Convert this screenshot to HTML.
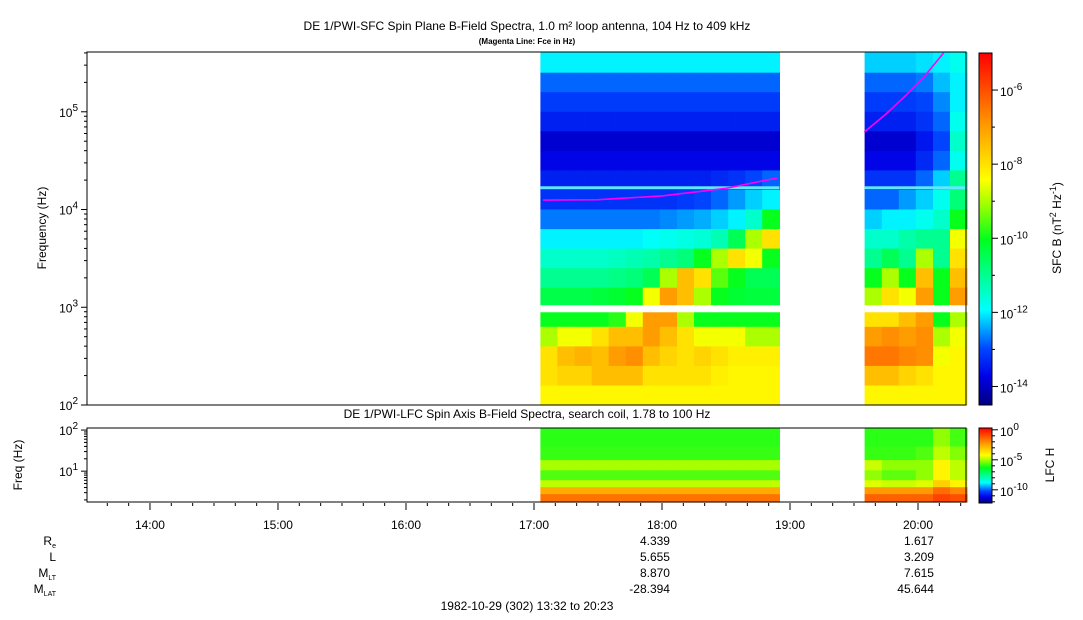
<!DOCTYPE html>
<html><head><meta charset="utf-8"><style>
html,body{margin:0;padding:0;background:#fff;}
svg{display:block;font-family:"Liberation Sans",sans-serif;}
</style></head><body>
<svg id="c" width="1083" height="620" viewBox="0 0 1083 620" xmlns="http://www.w3.org/2000/svg">
<text x="527" y="30" font-size="12" text-anchor="middle">DE 1/PWI-SFC  Spin Plane B-Field Spectra, 1.0 m² loop antenna, 104 Hz to 409 kHz</text>
<text x="527" y="44" font-size="8" font-weight="bold" text-anchor="middle">(Magenta Line: Fce in Hz)</text>
<text x="527" y="418" font-size="12" text-anchor="middle">DE 1/PWI-LFC  Spin Axis B-Field Spectra, search coil, 1.78 to 100 Hz</text>
<text transform="translate(46,228) rotate(-90)" font-size="12" text-anchor="middle">Frequency (Hz)</text>
<text transform="translate(22,465) rotate(-90)" font-size="12" text-anchor="middle">Freq (Hz)</text>
<text transform="translate(1061,228) rotate(-90)" font-size="12" text-anchor="middle">SFC B (nT<tspan dy="-5" font-size="9">2</tspan><tspan dy="5"> Hz</tspan><tspan dy="-5" font-size="9">-1</tspan><tspan dy="5">)</tspan></text>
<text transform="translate(1054,465) rotate(-90)" font-size="12" text-anchor="middle">LFC H</text>
<g id="g"></g>
</svg>
<script>
// ---- data ----
const hourTicks = [14,15,16,17,18,19,20];
const colStartsH = [17.05,17.183,17.317,17.45,17.583,17.717,17.85,17.983,18.117,18.25,18.383,18.517,18.65,18.783,
                    19.583,19.717,19.85,19.983,20.117,20.25];
const colEndsH = [17.183,17.317,17.45,17.583,17.717,17.85,17.983,18.117,18.25,18.383,18.517,18.65,18.783,18.917,
                    19.717,19.85,19.983,20.117,20.25,20.383];
const rowLogLo = [5.4,5.2,5.0,4.8,4.6,4.4,4.2,4.0,3.8,3.6,3.4,3.2,3.0,2.8,2.6,2.4,2.2,2.0];
const rowLogHi = [5.62,5.4,5.2,5.0,4.8,4.6,4.4,4.2,4.0,3.8,3.6,3.4,3.2,3.0,2.8,2.6,2.4,2.2];
const sfc = [
 [-12.0,-12.0,-12.0,-12.0,-12.0,-12.0,-12.0,-12.0,-12.0,-12.0,-12.0,-12.0,-12.0,-12.0, -12.2,-12.2,-12.2,-12.1,-12.0,-11.8],
 [-12.8,-12.8,-12.8,-12.8,-12.8,-12.8,-12.8,-12.8,-12.8,-12.8,-12.8,-12.8,-12.8,-12.8, -12.8,-12.8,-12.8,-12.7,-12.3,-12.0],
 [-13.1,-13.1,-13.1,-13.1,-13.1,-13.1,-13.1,-13.1,-13.1,-13.1,-13.1,-13.1,-13.1,-13.1, -13.1,-13.1,-13.1,-13.0,-12.6,-12.0],
 [-13.4,-13.4,-13.4,-13.4,-13.4,-13.4,-13.4,-13.4,-13.4,-13.4,-13.4,-13.4,-13.4,-13.4, -13.4,-13.4,-13.4,-13.2,-12.8,-11.8],
 [-13.9,-13.9,-13.9,-13.9,-13.9,-13.9,-13.9,-13.9,-13.9,-13.9,-13.9,-13.9,-13.9,-13.9, -13.9,-13.9,-13.9,-13.5,-13.0,-11.5],
 [-13.7,-13.7,-13.7,-13.7,-13.7,-13.7,-13.7,-13.7,-13.7,-13.7,-13.7,-13.7,-13.7,-13.7, -13.7,-13.7,-13.7,-13.3,-12.8,-11.8],
 [-13.4,-13.4,-13.4,-13.4,-13.4,-13.4,-13.4,-13.4,-13.4,-13.4,-13.3,-13.2,-13.0,-12.8, -13.2,-13.2,-13.2,-12.8,-12.2,-11.0],
 [-13.2,-13.2,-13.2,-13.2,-13.2,-13.2,-13.2,-13.2,-13.1,-13.0,-12.8,-12.5,-12.2,-12.0, -12.8,-12.8,-12.5,-12.2,-11.8,-10.8],
 [-12.7,-12.7,-12.7,-12.7,-12.7,-12.7,-12.7,-12.6,-12.5,-12.4,-12.2,-12.0,-11.5,-10.0, -12.2,-12.0,-12.0,-11.8,-11.5,-10.0],
 [-12.0,-12.0,-12.0,-12.0,-12.0,-12.0,-11.9,-11.8,-11.7,-11.6,-11.3,-10.5,-9.0,-8.0,  -11.5,-11.5,-11.2,-11.0,-11.0,-8.5],
 [-11.5,-11.5,-11.5,-11.5,-11.4,-11.3,-11.2,-11.0,-10.8,-10.0,-9.0,-8.0,-8.5,-10.0,   -11.0,-10.5,-11.0,-9.0,-11.0,-8.0],
 [-11.0,-11.0,-11.0,-11.0,-10.9,-10.8,-10.5,-9.0,-7.5,-8.0,-9.5,-10.0,-10.5,-10.5,    -10.0,-9.0,-10.0,-7.5,-10.0,-7.5],
 [-10.4,-10.4,-10.4,-10.3,-10.2,-10.0,-8.5,-7.0,-7.5,-9.0,-10.0,-10.2,-10.3,-10.3,    -9.0,-8.0,-8.5,-7.0,-10.0,-7.0],
 [-10.0,-10.0,-10.0,-10.0,-9.8,-8.5,-7.0,-7.0,-9.0,-10.0,-10.0,-10.0,-10.0,-10.0,     -8.0,-8.0,-7.5,-7.0,-10.0,-9.0],
 [-9.0,-8.5,-8.5,-8.0,-7.5,-7.5,-7.0,-7.5,-8.0,-8.5,-8.5,-8.5,-9.0,-9.0,              -7.0,-6.8,-7.0,-6.8,-9.0,-8.5],
 [-8.0,-7.5,-7.3,-7.5,-7.0,-6.8,-7.5,-7.8,-8.0,-7.8,-8.0,-8.2,-8.2,-8.2,              -6.5,-6.5,-6.7,-6.8,-8.5,-8.3],
 [-8.0,-7.8,-7.8,-7.5,-7.5,-7.5,-8.0,-8.0,-8.0,-8.0,-8.2,-8.3,-8.3,-8.3,              -7.5,-7.5,-7.8,-8.0,-8.3,-8.3],
 [-8.3,-8.3,-8.3,-8.3,-8.3,-8.3,-8.3,-8.3,-8.3,-8.3,-8.3,-8.3,-8.3,-8.3,              -8.3,-8.3,-8.3,-8.3,-8.3,-8.3]
];
const lfcLogLo = [1.6,1.27,1.02,0.78,0.61,0.44,0.25];
const lfcLogHi = [2.05,1.6,1.27,1.02,0.78,0.61,0.44];
const lfc = [
 [-6.0,-6.0,-6.0,-6.0,-6.0,-6.0,-6.0,-6.0,-6.0,-6.0,-6.0,-6.0,-6.0,-6.0, -6.0,-6.0,-6.0,-6.0,-5.2,-5.8],
 [-5.9,-5.9,-5.9,-5.9,-5.9,-5.9,-5.9,-5.9,-5.9,-5.9,-5.9,-5.9,-5.9,-5.9, -5.9,-5.9,-5.9,-5.7,-4.8,-5.3],
 [-5.0,-5.0,-5.0,-5.0,-5.0,-5.0,-5.0,-5.0,-5.0,-5.0,-5.0,-5.0,-5.0,-5.0, -4.7,-5.2,-5.2,-5.2,-4.0,-4.8],
 [-5.7,-5.7,-5.7,-5.7,-5.7,-5.7,-5.7,-5.7,-5.7,-5.7,-5.7,-5.7,-5.7,-5.7, -5.2,-5.6,-5.6,-5.2,-4.0,-4.8],
 [-4.8,-4.8,-4.8,-4.8,-4.8,-4.8,-4.8,-4.8,-4.8,-4.8,-4.8,-4.8,-4.8,-4.8, -4.5,-4.7,-4.7,-4.5,-3.3,-4.0],
 [-2.6,-2.6,-2.6,-2.6,-2.6,-2.6,-2.6,-2.6,-2.6,-2.6,-2.6,-2.6,-2.6,-2.6, -2.3,-2.3,-2.3,-2.3,-1.5,-2.0],
 [-1.6,-1.6,-1.6,-1.6,-1.6,-1.6,-1.6,-1.6,-1.6,-1.6,-1.6,-1.6,-1.6,-1.6, -1.3,-1.3,-1.3,-1.3,-0.8,-1.0]
];
const fce1T = [17.07,17.5,18.0,18.5,18.9];
const fce1F = [12500,12600,13800,16500,21000];
const fce2T = [19.58,19.75,19.9,20.05,20.2];
const fce2F = [62000,95000,145000,230000,400000];
const ephemLabels = ["Re","L","MLT","MLAT"];
const ephem18 = ["4.339","5.655","8.870","-28.394"];
const ephem20 = ["1.617","3.209","7.615","45.644"];

// ---- axes ----
const X0=87, X1=966, T0=13.508, T1=20.375;
const xs = h => X0 + (h-T0)/(T1-T0)*(X1-X0);
const Y0=405, Y1=52, L0=2.0, L1=Math.log10(409000);
const ys = l => Y0 - (l-L0)/(L1-L0)*(Y0-Y1);
const LY0=502, LY1=428, LL0=0.25, LL1=2.05;
const lys = l => LY0 - (l-LL0)/(LL1-LL0)*(LY0-LY1);
const stops=[[0,[0,0,128]],[0.08,[0,0,230]],[0.16,[0,70,255]],[0.27,[0,255,255]],[0.47,[0,255,30]],[0.57,[160,255,0]],[0.64,[255,255,0]],[0.8,[255,150,0]],[1,[255,0,0]]];
function jet(t){t=Math.max(0,Math.min(1,t));for(let i=1;i<stops.length;i++){if(t<=stops[i][0]){const a=stops[i-1],b=stops[i],f=(t-a[0])/(b[0]-a[0]);const c=a[1].map((v,k)=>Math.round(v+(b[1][k]-v)*f));return `rgb(${c})`;}}return 'rgb(255,0,0)';}
const sfcMin=-14.5,sfcMax=-5, lfcMin=-12.2, lfcMax=0.3;

const NS="http://www.w3.org/2000/svg", G=document.getElementById('g');
function el(tag,attrs,parent){const e=document.createElementNS(NS,tag);for(const k in attrs)e.setAttribute(k,attrs[k]);(parent||G).appendChild(e);return e;}

// main cells
const cells=el('g',{});


sfc.forEach((row,r)=>row.forEach((v,c)=>{
  const x=xs(colStartsH[c]), w=xs(colEndsH[c])-x, y=ys(Math.min(rowLogHi[r],L1)), h=ys(rowLogLo[r])-y;
  const e=el('rect',{x:x.toFixed(1),y:y.toFixed(1),width:(w+0.6).toFixed(1),height:(h+0.6).toFixed(1),fill:jet((v-sfcMin)/(sfcMax-sfcMin))},cells);
  
  
}));
// 16 kHz cyan line and 1 kHz gap
[[0,13],[14,19]].forEach(([a,b])=>{
  const x=xs(colStartsH[a]), w=xs(colEndsH[b])-x;
  const ln=el('rect',{x:x,y:ys(Math.log10(16500))-2,width:w,height:3,fill:'#60e8ff'});
  
  
  const gp=el('rect',{x:x,y:ys(3.0)-2,width:w+1,height:7,fill:'#fff'});
  
  
});
// fce lines
[[fce1T,fce1F],[fce2T,fce2F]].forEach(([T,F])=>{
  const pts=T.map((t,i)=>xs(t).toFixed(1)+','+ys(Math.log10(F[i])).toFixed(1)).join(' ');
  const p=el('polyline',{points:pts,fill:'none',stroke:'#ff00ff','stroke-width':1.6});
  
  
});
// lower cells
const lc=el('g',{});


lfc.forEach((row,r)=>row.forEach((v,c)=>{
  const x=xs(colStartsH[c]), w=xs(colEndsH[c])-x, y=lys(lfcLogHi[r]), h=lys(lfcLogLo[r])-y;
  const e=el('rect',{x:x.toFixed(1),y:y.toFixed(1),width:(w+0.6).toFixed(1),height:(h+0.6).toFixed(1),fill:jet((v-lfcMin)/(lfcMax-lfcMin))},lc);
  
  
}));
// frames
const f1=el('rect',{x:X0,y:Y1,width:X1-X0,height:Y0-Y1,fill:'none',stroke:'#000','stroke-width':1});


const f2=el('rect',{x:X0,y:LY1,width:X1-X0,height:LY0-LY1,fill:'none',stroke:'#000','stroke-width':1});


// y ticks main
for(let d=2;d<=5;d++){for(let m=1;m<10;m++){const l=d+Math.log10(m);if(l>L1)break;const y=ys(l);const len=m==1?6:3;
  const t=el('line',{x1:X0-len,x2:X0,y1:y,y2:y,stroke:'#000'});
  
  
  if(m==1){const tx=el('text',{x:X0-9,y:y+5,'font-size':12,'text-anchor':'end'});tx.innerHTML='10<tspan dy="-6" font-size="10">'+d+'</tspan>';
    
    }}}
// lower y ticks
for(let d=0;d<=2;d++){for(let m=1;m<10;m++){const l=d+Math.log10(m);if(l<LL0||l>LL1)continue;const y=lys(l);const len=m==1?6:3;
  const t=el('line',{x1:X0-len,x2:X0,y1:y,y2:y,stroke:'#000'});
  
  
  if(m==1){const tx=el('text',{x:X0-9,y:y+5,'font-size':12,'text-anchor':'end'});tx.innerHTML='10<tspan dy="-6" font-size="10">'+d+'</tspan>';
    
    }}}
// x ticks
for(let m=0;m<=(T1-13.5)*60;m+=10){const h=13.5+m/60;if(h<T0)continue;const x=xs(h);const major=m%60==30;
  const t=el('line',{x1:x,x2:x,y1:LY0+1,y2:LY0+(major?8:4),stroke:'#000'});
  
  }
hourTicks.forEach(h=>{const tx=el('text',{x:xs(h),y:529,'font-size':12,'text-anchor':'middle'});tx.textContent=h+':00';
  
  });
// ephemeris
const subs=[['R','e'],['L',''],['M','LT'],['M','LAT']];
ephemLabels.forEach((n,i)=>{const y=545+i*16;
  const t=el('text',{x:56,y:y,'font-size':12,'text-anchor':'end'});t.innerHTML=subs[i][0]+'<tspan dy="3" font-size="7">'+subs[i][1]+'</tspan>';
  
  
  const a=el('text',{x:xs(18)+8,y:y,'font-size':12,'text-anchor':'end'});a.textContent=ephem18[i];
  
  
  const b=el('text',{x:xs(20)+16,y:y,'font-size':12,'text-anchor':'end'});b.textContent=ephem20[i];
  
  });
const dt=el('text',{x:527,y:610,'font-size':12,'text-anchor':'middle'});dt.textContent='1982-10-29 (302) 13:32 to 20:23';


// colorbars
function cbar(y0,y1,vmin,vmax,ticks,minor,name){
  const cx=979,cw=13;
  for(let y=y0;y<y1;y++){const v=vmax-(y-y0+0.5)/(y1-y0)*(vmax-vmin);el('rect',{x:cx,y:y,width:cw,height:1.2,fill:jet((v-vmin)/(vmax-vmin))});}
  const fr=el('rect',{x:cx,y:y0,width:cw,height:y1-y0,fill:'none',stroke:'#000'});
  
  
  const vy=v=>y0+(vmax-v)/(vmax-vmin)*(y1-y0);
  minor.forEach(v=>{el('line',{x1:cx+cw,x2:cx+cw+3,y1:vy(v),y2:vy(v),stroke:'#000'});});
  ticks.forEach(v=>{const y=vy(v);el('line',{x1:cx+cw,x2:cx+cw+6,y1:y,y2:y,stroke:'#000'});
    const tx=el('text',{x:cx+cw+8,y:y+6,'font-size':12});tx.innerHTML='10<tspan dy="-6" font-size="10">'+v+'</tspan>';
    
    });
}
cbar(53,405,sfcMin,sfcMax,[-6,-8,-10,-12,-14],[-7,-9,-11,-13],'sfc-colorbar');
cbar(428,503,lfcMin,lfcMax,[0,-5,-10],[-1,-2,-3,-4,-6,-7,-8,-9,-11,-12],'lfc-colorbar');
</script>
</body></html>
